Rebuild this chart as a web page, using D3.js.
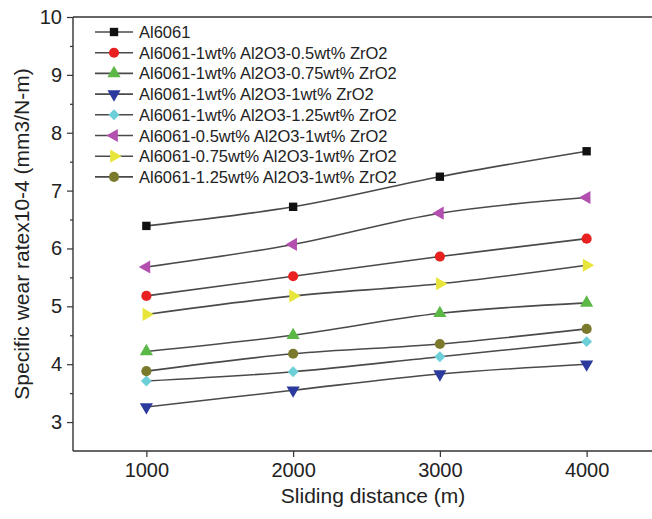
<!DOCTYPE html>
<html>
<head>
<meta charset="utf-8">
<script src="https://cdn.jsdelivr.net/npm/d3@7"></script>
<style>
  body { margin: 0; background: #fff; }
  svg { font-family: "Liberation Sans", Arial, sans-serif; }
</style>
</head>
<body>
<svg width="652" height="519"></svg>
<script>
var distances = [1000, 2000, 3000, 4000];

var seriesNames = [
  "Al6061",
  "Al6061-1wt% Al2O3-0.5wt% ZrO2",
  "Al6061-1wt% Al2O3-0.75wt% ZrO2",
  "Al6061-1wt% Al2O3-1wt% ZrO2",
  "Al6061-1wt% Al2O3-1.25wt% ZrO2",
  "Al6061-0.5wt% Al2O3-1wt% ZrO2",
  "Al6061-0.75wt% Al2O3-1wt% ZrO2",
  "Al6061-1.25wt% Al2O3-1wt% ZrO2"
];

var al6061      = [6.39, 6.72, 7.24, 7.68];
var zr05        = [5.18, 5.52, 5.86, 6.17];
var zr075       = [4.22, 4.50, 4.88, 5.06];
var zr1         = [3.26, 3.55, 3.83, 4.00];
var zr125       = [3.71, 3.87, 4.13, 4.39];
var al05        = [5.68, 6.07, 6.61, 6.88];
var al075       = [4.86, 5.18, 5.39, 5.71];
var al125       = [3.88, 4.18, 4.35, 4.61];

var seriesValues = [al6061, zr05, zr075, zr1, zr125, al05, al075, al125];

var colors = ["#111111", "#e8201f", "#5cb846", "#2b3a9c", "#6dcfd8", "#b34faf", "#e8e63a", "#7b7a2c"];
var shapes = ["square", "circle", "up", "down", "diamond", "left", "right", "circle"];

var yTicks = [3, 4, 5, 6, 7, 8, 9, 10];

var svg = d3.select("svg");

var pLeft = 73, pRight = 660, pTop = 17, pBottom = 451;

var x = d3.scaleLinear().domain([500, 4500]).range([pLeft, pRight]);
var y = d3.scaleLinear().domain([2.5, 10]).range([pBottom, pTop]);

// frame line at top
svg.append("line")
  .attr("x1", pLeft).attr("x2", 652)
  .attr("y1", pTop).attr("y2", pTop)
  .attr("stroke", "#333").attr("stroke-width", 1.6);

// y axis
var yAxis = svg.append("g")
  .attr("transform", "translate(" + pLeft + ",0)")
  .call(d3.axisLeft(y).tickValues(yTicks).tickSize(6).tickPadding(5).tickFormat(d3.format("d")));

svg.append("g")
  .attr("transform", "translate(" + pLeft + ",0)")
  .call(d3.axisLeft(y).tickValues(d3.range(3.5, 10, 1)).tickSize(3).tickFormat(""))
  .call(function(g) {
    g.select(".domain").remove();
    g.selectAll(".tick line").attr("stroke", "#333").attr("stroke-width", 1.2);
  });

// x axis
var xAxis = svg.append("g")
  .attr("transform", "translate(0," + pBottom + ")")
  .call(d3.axisBottom(x).tickValues(distances).tickSize(6).tickPadding(6).tickFormat(d3.format("d")));

[yAxis, xAxis].forEach(function(a) {
  a.select(".domain").attr("stroke", "#333").attr("stroke-width", 1.4);
  a.selectAll(".tick line").attr("stroke", "#333").attr("stroke-width", 1.2);
  a.selectAll(".tick text").attr("fill", "#222").style("font-size", "20px");
});
yAxis.select(".domain").attr("d", "M0," + pBottom + "V" + pTop);
xAxis.select(".domain").attr("d", "M" + pLeft + ",0H652");

// axis titles
svg.append("text")
  .attr("x", 373)
  .attr("y", 503)
  .attr("text-anchor", "middle")
  .attr("fill", "#222")
  .style("font-size", "21px")
  .text("Sliding distance (m)");

svg.append("text")
  .attr("transform", "translate(29," + ((pTop + pBottom) / 2) + ") rotate(-90)")
  .attr("text-anchor", "middle")
  .attr("fill", "#222")
  .style("font-size", "21px")
  .text("Specific wear ratex10-4 (mm3/N-m)");

function marker(g, shape, color) {
  var s, rot;
  if (shape == "square") s = d3.symbol().type(d3.symbolSquare).size(70);
  else if (shape == "circle") s = d3.symbol().type(d3.symbolCircle).size(80);
  else if (shape == "diamond") s = d3.symbol().type(d3.symbolSquare).size(60);
  else s = d3.symbol().type(d3.symbolTriangle).size(75);
  rot = { up: 0, down: 180, left: -90, right: 90, diamond: 45 }[shape] || 0;
  g.append("path")
    .attr("d", s)
    .attr("transform", "rotate(" + rot + ")")
    .attr("fill", color);
}

var line = d3.line()
  .x(function(d, i) { return x(distances[i]); })
  .y(function(d) { return y(d); })
  .curve(d3.curveCatmullRom);

seriesValues.forEach(function(vals, k) {
  svg.append("path")
    .attr("d", line(vals))
    .attr("fill", "none")
    .attr("stroke", "#4a4a4a")
    .attr("stroke-width", 1.6);
});

seriesValues.forEach(function(vals, k) {
  vals.forEach(function(v, i) {
    var g = svg.append("g")
      .attr("transform", "translate(" + x(distances[i]) + "," + y(v) + ")");
    marker(g, shapes[k], colors[k]);
  });
});

// legend
var legend = svg.append("g");
seriesNames.forEach(function(name, k) {
  var ly = 32 + k * 20.7;
  legend.append("line")
    .attr("x1", 95).attr("x2", 133)
    .attr("y1", ly).attr("y2", ly)
    .attr("stroke", "#4a4a4a").attr("stroke-width", 1.6);
  var g = legend.append("g").attr("transform", "translate(114," + ly + ")");
  marker(g, shapes[k], colors[k]);
  legend.append("text")
    .attr("x", 139)
    .attr("y", ly + 6)
    .attr("fill", "#222")
    .style("font-size", "16.5px")
    .text(name);
});
</script>
</body>
</html>
